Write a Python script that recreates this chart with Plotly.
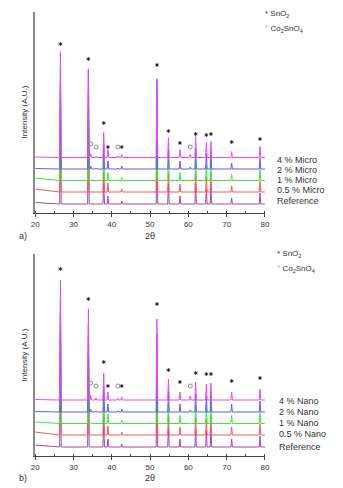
import plotly.graph_objects as go

# ---------------- data ----------------
# peak positions (2θ, degrees)
peak_pos = [26.6, 33.9, 34.5, 35.9, 37.9, 39.0, 41.6, 42.6, 51.8, 54.8,
            57.8, 60.5, 61.9, 64.7, 65.9, 71.3, 78.7]

micro_labels = ["Reference", "0.5 % Micro", "1 % Micro", "2 % Micro", "4 % Micro"]
nano_labels = ["Reference", "0.5 % Nano", "1 % Nano", "2 % Nano", "4 % Nano"]

# vertical stacking offsets of each pattern (a.u.)
micro_offsets = [9, 21, 32.5, 44, 55.5]
nano_offsets = [9, 21, 32.5, 44, 56]
# baseline level at 2θ = 20 (above offset)
micro_start = [1.5, 3, 2.5, 0.5, 0.5]
nano_start = [2, 3, 1.5, 0.5, 0.5]

# peak heights per pattern (a.u.), same order as peak_pos
micro_heights = [
    [96, 88, 0, 0, 24, 8, 0, 3, 78, 20, 8, 0, 21, 15, 16, 6, 11],   # Reference
    [96, 88, 0, 0, 24, 9, 0, 3, 78, 20, 8, 0, 21, 15, 16, 6, 11],   # 0.5 %
    [98, 90, 0.5, 0, 24, 8, 0, 3, 80, 20, 8, 0.5, 21, 15, 16, 6, 11],  # 1 %
    [100, 100, 3, 1, 24, 8, 1, 3, 90, 20, 8, 2, 21, 15, 16, 6, 11],  # 2 %
    [106, 88, 4, 1.5, 25, 8, 1.5, 3, 74, 20, 8, 3, 21, 15, 16, 6, 11],  # 4 %
]
nano_heights = [
    [108, 84, 0, 0, 26, 8, 0, 3, 74, 20, 8, 0, 18, 16, 17, 8, 11],
    [108, 84, 0, 0, 26, 9, 0, 3, 74, 20, 8, 0, 18, 16, 17, 8, 11],
    [110, 86, 1, 0, 26, 10, 0, 3, 76, 20, 8, 1, 18, 16, 17, 8, 11],
    [112, 88, 3, 1, 26, 8, 1, 3, 78, 21, 8, 2, 18, 16, 17, 8, 11],
    [120, 91, 5, 2, 27, 8, 1.5, 3, 81, 21, 8, 4, 18, 16, 17, 8, 11],
]

series_colors = ["#a04aa8", "#f25a5a", "#44e044", "#5c5cf0", "#e84ae8"]

# phase markers
sno2_pos = [26.6, 33.9, 37.9, 39.0, 42.6, 51.8, 54.8, 57.8, 61.9, 64.7, 65.9, 71.3, 78.7]
sno2_mark_micro = [169, 154, 90, 66, 66, 148, 82, 70, 79, 78, 79, 71, 74]
sno2_mark_nano = [187, 157, 94, 70, 70, 152, 86, 74, 83, 82, 82, 75, 78]
co_pos = [34.5, 35.9, 41.6, 60.5]
co_mark_micro = [69, 66, 66, 66]
co_mark_nano = [73, 70, 70, 70]

# ---------------- figure ----------------
W, H = 343, 488
fig = go.Figure()

HALF = 0.2  # peak half base width (deg)


def pattern(offset, start, heights):
    xs, ys = [20.0], [offset + start]
    for p, h in zip(peak_pos, heights):
        xs += [p - HALF, p, p + HALF]
        ys += [offset, offset + h, offset]
    xs.append(80.0)
    ys.append(offset)
    return xs, ys


def add_panel(labels, offsets, starts, heights, xa, ya):
    for i, lab in enumerate(labels):
        xs, ys = pattern(offsets[i], starts[i], heights[i])
        fig.add_trace(go.Scatter(x=xs, y=ys, mode="lines", name=lab,
                                 line=dict(color=series_colors[i], width=1),
                                 xaxis=xa, yaxis=ya, showlegend=False,
                                 hoverinfo="skip"))


add_panel(micro_labels, micro_offsets, micro_start, micro_heights, "x", "y")
add_panel(nano_labels, nano_offsets, nano_start, nano_heights, "x2", "y2")

for xa, ya, sm, cm in [("x", "y", sno2_mark_micro, co_mark_micro),
                       ("x2", "y2", sno2_mark_nano, co_mark_nano)]:
    fig.add_trace(go.Scatter(x=sno2_pos, y=sm, mode="markers",
                             marker=dict(symbol="asterisk", size=3, color="#222",
                                         line=dict(color="#222", width=1)),
                             xaxis=xa, yaxis=ya, showlegend=False, hoverinfo="skip",
                             cliponaxis=False))
    fig.add_trace(go.Scatter(x=co_pos, y=cm, mode="markers",
                             marker=dict(symbol="circle-open", size=4, color="#888",
                                         line=dict(color="#888", width=1)),
                             xaxis=xa, yaxis=ya, showlegend=False, hoverinfo="skip",
                             cliponaxis=False))


def px_x(x):
    return x / W


def px_y(y):
    return 1 - y / H


font_family = "Liberation Sans, Arial, sans-serif"
xcommon = dict(range=[20, 80], dtick=10, tick0=20, showline=True, linecolor="#444",
               linewidth=1, ticks="outside", ticklen=3, tickcolor="#444",
               tickfont=dict(size=8, color="#333", family=font_family),
               minor=dict(dtick=5, ticks="inside", ticklen=2, tickcolor="#444"),
               showgrid=False, zeroline=False, fixedrange=True)
ycommon = dict(showline=True, linecolor="#8a8a8a", linewidth=1.5, ticks="",
               showticklabels=False, showgrid=False, zeroline=False, fixedrange=True)

fig.update_layout(
    width=W, height=H, margin=dict(l=0, r=0, t=0, b=0),
    paper_bgcolor="white", plot_bgcolor="white",
    font=dict(family=font_family, color="#333"),
    xaxis=dict(domain=[px_x(32), px_x(268)], anchor="y", **xcommon),
    yaxis=dict(domain=[px_y(213), px_y(12)], range=[0, 201], anchor="x", **ycommon),
    xaxis2=dict(domain=[px_x(32), px_x(268)], anchor="y2", **xcommon),
    yaxis2=dict(domain=[px_y(456), px_y(254)], range=[0, 202], anchor="x2", **ycommon),
)

ann = []
# sample labels
micro_label_y = [201, 190, 180, 170, 160]
nano_label_y = [447, 434, 423, 412, 401]
for labs, ly, lx in [(micro_labels, micro_label_y, 278), (nano_labels, nano_label_y, 280)]:
    for lab, yy in zip(labs, ly):
        ann.append(dict(text=lab, x=px_x(lx), y=px_y(yy), xref="paper", yref="paper",
                        xanchor="left", yanchor="middle", showarrow=False,
                        font=dict(size=9, color="#333")))
# phase key
for (x0, y1, y2) in [(266, 14, 29), (278, 254, 269)]:
    ann.append(dict(text="* SnO<sub>2</sub>", x=px_x(x0), y=px_y(y1), xref="paper", yref="paper",
                    xanchor="left", yanchor="middle", showarrow=False,
                    font=dict(size=8, color="#333")))
    ann.append(dict(text="<span style='color:#888'>°</span> Co<sub>2</sub>SnO<sub>4</sub>",
                    x=px_x(x0), y=px_y(y2), xref="paper", yref="paper",
                    xanchor="left", yanchor="middle", showarrow=False,
                    font=dict(size=8, color="#333")))
# axis titles and panel letters
for (yc, yt, letter) in [(112, 236, "a)"), (355, 478, "b)")]:
    ann.append(dict(text="Intensity (A.U.)", x=px_x(21), y=px_y(yc), xref="paper", yref="paper",
                    textangle=-90, showarrow=False, xanchor="center", yanchor="middle",
                    font=dict(size=8, color="#333")))
    ann.append(dict(text="2θ", x=px_x(150), y=px_y(yt), xref="paper", yref="paper",
                    showarrow=False, xanchor="center", yanchor="middle",
                    font=dict(size=9, color="#333")))
    ann.append(dict(text=letter, x=px_x(13), y=px_y(yt), xref="paper", yref="paper",
                    showarrow=False, xanchor="left", yanchor="middle",
                    font=dict(size=9, color="#333")))
fig.update_layout(annotations=ann)

fig.write_html("out.html", config={"displayModeBar": False},
               post_script="document.body.style.margin='0';")
